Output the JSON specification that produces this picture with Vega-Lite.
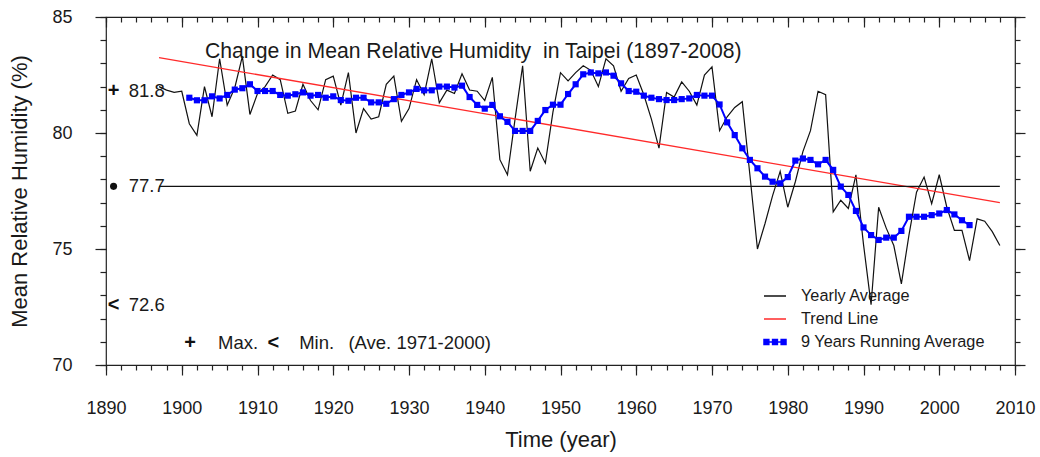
{
  "$schema": "https://vega.github.io/schema/vega-lite/v6.json",
  "width": 909,
  "height": 348,
  "autosize": {"type": "none"},
  "padding": {"left": 106, "top": 17, "right": 25, "bottom": 92},
  "background": "white",
  "title": {
    "text": "Change in Mean Relative Humidity\u00a0 in Taipei (1897-2008)",
    "anchor": "start",
    "frame": "group",
    "dx": 99,
    "offset": -54,
    "fontSize": 21.2,
    "font": "Liberation Sans",
    "fontWeight": "normal",
    "color": "#1a1a1a"
  },
  "config": {
    "font": "Liberation Sans",
    "view": {"stroke": "#222222", "strokeWidth": 1.2},
    "axis": {
      "domain": false,
      "grid": false,
      "tickColor": "#222222",
      "tickWidth": 1.2,
      "labelColor": "#1a1a1a",
      "titleColor": "#1a1a1a",
      "labelFont": "Liberation Sans",
      "titleFont": "Liberation Sans",
      "titleFontWeight": "normal",
      "labelFontSize": 18,
      "titleFontSize": 22,
      "labelFlush": false
    }
  },
  "datasets": {
    "yearly": [
      {"year": 1897, "rh": 82.0}, {"year": 1898, "rh": 81.85}, {"year": 1899, "rh": 81.75}, {"year": 1900, "rh": 81.8},
      {"year": 1901, "rh": 80.4}, {"year": 1902, "rh": 79.9}, {"year": 1903, "rh": 82.0}, {"year": 1904, "rh": 80.7},
      {"year": 1905, "rh": 83.2}, {"year": 1906, "rh": 81.2}, {"year": 1907, "rh": 81.95}, {"year": 1908, "rh": 83.3},
      {"year": 1909, "rh": 80.8}, {"year": 1910, "rh": 81.7}, {"year": 1911, "rh": 82.0}, {"year": 1912, "rh": 82.5},
      {"year": 1913, "rh": 82.3}, {"year": 1914, "rh": 80.85}, {"year": 1915, "rh": 80.95}, {"year": 1916, "rh": 82.1},
      {"year": 1917, "rh": 81.4}, {"year": 1918, "rh": 81.0}, {"year": 1919, "rh": 82.3}, {"year": 1920, "rh": 82.45},
      {"year": 1921, "rh": 81.2}, {"year": 1922, "rh": 82.6}, {"year": 1923, "rh": 80.0}, {"year": 1924, "rh": 81.05},
      {"year": 1925, "rh": 80.6}, {"year": 1926, "rh": 80.7}, {"year": 1927, "rh": 82.1}, {"year": 1928, "rh": 82.45},
      {"year": 1929, "rh": 80.5}, {"year": 1930, "rh": 81.05}, {"year": 1931, "rh": 82.3}, {"year": 1932, "rh": 81.65},
      {"year": 1933, "rh": 83.2}, {"year": 1934, "rh": 81.3}, {"year": 1935, "rh": 81.85}, {"year": 1936, "rh": 81.7},
      {"year": 1937, "rh": 82.55}, {"year": 1938, "rh": 81.85}, {"year": 1939, "rh": 81.8}, {"year": 1940, "rh": 81.4},
      {"year": 1941, "rh": 82.4}, {"year": 1942, "rh": 78.85}, {"year": 1943, "rh": 78.2}, {"year": 1944, "rh": 80.6},
      {"year": 1945, "rh": 82.9}, {"year": 1946, "rh": 78.35}, {"year": 1947, "rh": 79.35}, {"year": 1948, "rh": 78.7},
      {"year": 1949, "rh": 80.9}, {"year": 1950, "rh": 82.6}, {"year": 1951, "rh": 82.25}, {"year": 1952, "rh": 82.6},
      {"year": 1953, "rh": 82.9}, {"year": 1954, "rh": 82.7}, {"year": 1955, "rh": 82.0}, {"year": 1956, "rh": 83.2},
      {"year": 1957, "rh": 82.9}, {"year": 1958, "rh": 81.8}, {"year": 1959, "rh": 82.35}, {"year": 1960, "rh": 82.5},
      {"year": 1961, "rh": 81.65}, {"year": 1962, "rh": 80.6}, {"year": 1963, "rh": 79.35}, {"year": 1964, "rh": 81.75},
      {"year": 1965, "rh": 81.55}, {"year": 1966, "rh": 82.2}, {"year": 1967, "rh": 81.8}, {"year": 1968, "rh": 81.2},
      {"year": 1969, "rh": 82.5}, {"year": 1970, "rh": 82.85}, {"year": 1971, "rh": 80.1}, {"year": 1972, "rh": 80.7},
      {"year": 1973, "rh": 81.1}, {"year": 1974, "rh": 81.35}, {"year": 1975, "rh": 78.2}, {"year": 1976, "rh": 75.0},
      {"year": 1977, "rh": 76.1}, {"year": 1978, "rh": 77.3}, {"year": 1979, "rh": 78.35}, {"year": 1980, "rh": 76.8},
      {"year": 1981, "rh": 77.9}, {"year": 1982, "rh": 79.2}, {"year": 1983, "rh": 80.1}, {"year": 1984, "rh": 81.8},
      {"year": 1985, "rh": 81.65}, {"year": 1986, "rh": 76.6}, {"year": 1987, "rh": 77.1}, {"year": 1988, "rh": 76.75},
      {"year": 1989, "rh": 78.2}, {"year": 1990, "rh": 75.2}, {"year": 1991, "rh": 72.6}, {"year": 1992, "rh": 76.8},
      {"year": 1993, "rh": 75.9}, {"year": 1994, "rh": 75.15}, {"year": 1995, "rh": 73.5}, {"year": 1996, "rh": 75.6},
      {"year": 1997, "rh": 77.45}, {"year": 1998, "rh": 78.1}, {"year": 1999, "rh": 76.95}, {"year": 2000, "rh": 78.2},
      {"year": 2001, "rh": 76.8}, {"year": 2002, "rh": 75.8}, {"year": 2003, "rh": 75.8}, {"year": 2004, "rh": 74.5},
      {"year": 2005, "rh": 76.3}, {"year": 2006, "rh": 76.2}, {"year": 2007, "rh": 75.75}, {"year": 2008, "rh": 75.15}
    ],
    "running": [
      {"year": 1901, "rh": 81.52}, {"year": 1902, "rh": 81.41}, {"year": 1903, "rh": 81.41}, {"year": 1904, "rh": 81.58},
      {"year": 1905, "rh": 81.49}, {"year": 1906, "rh": 81.64}, {"year": 1907, "rh": 81.87}, {"year": 1908, "rh": 81.93},
      {"year": 1909, "rh": 82.1}, {"year": 1910, "rh": 81.81}, {"year": 1911, "rh": 81.81}, {"year": 1912, "rh": 81.81},
      {"year": 1913, "rh": 81.64}, {"year": 1914, "rh": 81.61}, {"year": 1915, "rh": 81.67}, {"year": 1916, "rh": 81.75},
      {"year": 1917, "rh": 81.61}, {"year": 1918, "rh": 81.64}, {"year": 1919, "rh": 81.52}, {"year": 1920, "rh": 81.58},
      {"year": 1921, "rh": 81.42}, {"year": 1922, "rh": 81.39}, {"year": 1923, "rh": 81.52}, {"year": 1924, "rh": 81.52},
      {"year": 1925, "rh": 81.32}, {"year": 1926, "rh": 81.32}, {"year": 1927, "rh": 81.26}, {"year": 1928, "rh": 81.46},
      {"year": 1929, "rh": 81.64}, {"year": 1930, "rh": 81.75}, {"year": 1931, "rh": 81.9}, {"year": 1932, "rh": 81.84},
      {"year": 1933, "rh": 81.84}, {"year": 1934, "rh": 82.0}, {"year": 1935, "rh": 82.0}, {"year": 1936, "rh": 81.96},
      {"year": 1937, "rh": 82.04}, {"year": 1938, "rh": 81.55}, {"year": 1939, "rh": 81.21}, {"year": 1940, "rh": 81.05},
      {"year": 1941, "rh": 81.21}, {"year": 1942, "rh": 80.72}, {"year": 1943, "rh": 80.48}, {"year": 1944, "rh": 80.09},
      {"year": 1945, "rh": 80.09}, {"year": 1946, "rh": 80.09}, {"year": 1947, "rh": 80.52}, {"year": 1948, "rh": 80.99},
      {"year": 1949, "rh": 81.22}, {"year": 1950, "rh": 81.22}, {"year": 1951, "rh": 81.68}, {"year": 1952, "rh": 82.1},
      {"year": 1953, "rh": 82.53}, {"year": 1954, "rh": 82.61}, {"year": 1955, "rh": 82.57}, {"year": 1956, "rh": 82.61},
      {"year": 1957, "rh": 82.47}, {"year": 1958, "rh": 82.14}, {"year": 1959, "rh": 81.81}, {"year": 1960, "rh": 81.78},
      {"year": 1961, "rh": 81.61}, {"year": 1962, "rh": 81.52}, {"year": 1963, "rh": 81.46}, {"year": 1964, "rh": 81.42},
      {"year": 1965, "rh": 81.42}, {"year": 1966, "rh": 81.46}, {"year": 1967, "rh": 81.49}, {"year": 1968, "rh": 81.64},
      {"year": 1969, "rh": 81.61}, {"year": 1970, "rh": 81.61}, {"year": 1971, "rh": 81.23}, {"year": 1972, "rh": 80.46},
      {"year": 1973, "rh": 79.91}, {"year": 1974, "rh": 79.34}, {"year": 1975, "rh": 78.84}, {"year": 1976, "rh": 78.48},
      {"year": 1977, "rh": 78.12}, {"year": 1978, "rh": 77.9}, {"year": 1979, "rh": 77.83}, {"year": 1980, "rh": 78.1},
      {"year": 1981, "rh": 78.81}, {"year": 1982, "rh": 78.9}, {"year": 1983, "rh": 78.84}, {"year": 1984, "rh": 78.65},
      {"year": 1985, "rh": 78.84}, {"year": 1986, "rh": 78.41}, {"year": 1987, "rh": 77.69}, {"year": 1988, "rh": 77.33},
      {"year": 1989, "rh": 76.64}, {"year": 1990, "rh": 75.93}, {"year": 1991, "rh": 75.6}, {"year": 1992, "rh": 75.39},
      {"year": 1993, "rh": 75.49}, {"year": 1994, "rh": 75.49}, {"year": 1995, "rh": 75.78}, {"year": 1996, "rh": 76.39},
      {"year": 1997, "rh": 76.39}, {"year": 1998, "rh": 76.39}, {"year": 1999, "rh": 76.46}, {"year": 2000, "rh": 76.53},
      {"year": 2001, "rh": 76.68}, {"year": 2002, "rh": 76.49}, {"year": 2003, "rh": 76.24}, {"year": 2004, "rh": 76.03}
    ],
    "trend": [
      {"year": 1897, "rh": 83.25}, {"year": 2008, "rh": 77.0}
    ],
    "normal": [
      {"year": 1897, "rh": 77.7}, {"year": 2008, "rh": 77.7}
    ],
    "glyphs": [
      {"year": 1891, "rh": 81.8, "glyph": "+"},
      {"year": 1891, "rh": 72.6, "glyph": "<"},
      {"year": 1901.1, "rh": 70.95, "glyph": "+"},
      {"year": 1912.1, "rh": 70.95, "glyph": "<"}
    ],
    "dot": [
      {"year": 1891, "rh": 77.7}
    ],
    "notes": [
      {"year": 1893, "rh": 81.8, "note": "81.8"},
      {"year": 1893, "rh": 77.7, "note": "77.7"},
      {"year": 1893, "rh": 72.6, "note": "72.6"},
      {"year": 1904.8, "rh": 70.95, "note": "Max."},
      {"year": 1915.5, "rh": 70.95, "note": "Min."},
      {"year": 1922, "rh": 70.95, "note": "(Ave. 1971-2000)"}
    ]
  },
  "resolve": {"axis": {"x": "independent", "y": "independent"}},
  "layer": [
    {
      "data": {"name": "yearly"},
      "mark": {"type": "line", "strokeWidth": 1.2},
      "encoding": {
        "x": {
          "field": "year", "type": "quantitative",
          "scale": {"domain": [1890, 2010], "nice": false, "zero": false},
          "axis": {
            "orient": "bottom",
            "values": [1890, 1900, 1910, 1920, 1930, 1940, 1950, 1960, 1970, 1980, 1990, 2000, 2010],
            "format": "d", "tickSize": 10, "labelPadding": 24,
            "title": "Time (year)", "titlePadding": 12
          }
        },
        "y": {
          "field": "rh", "type": "quantitative",
          "scale": {"domain": [70, 85], "nice": false, "zero": false},
          "axis": {
            "orient": "left", "values": [70, 75, 80, 85], "tickSize": 11, "labelPadding": 23,
            "title": "Mean Relative Humidity (%)", "titlePadding": 20
          }
        },
        "color": {
          "datum": "Yearly Average", "type": "nominal",
          "scale": {
            "domain": ["Yearly Average", "Trend Line", "9 Years Running Average"],
            "range": ["#111111", "#ff2a2a", "#0000ff"]
          },
          "legend": {
            "orient": "none", "legendX": 657, "legendY": 267, "title": null, "padding": 0,
            "labelFont": "Liberation Sans", "labelFontSize": 16.3, "labelColor": "#1a1a1a", "labelLimit": 0,
            "symbolSize": 484, "symbolStrokeWidth": 1.5, "labelOffset": 14, "rowPadding": 2,
            "encode": {
              "symbols": {
                "update": {
                  "shape": {"signal": "datum.value === '9 Years Running Average' ? 'M-1,0H1M-1,-0.22h0.44v0.44h-0.44zM-0.22,-0.22h0.44v0.44h-0.44zM0.56,-0.22h0.44v0.44h-0.44z' : 'M-1,0H1'"},
                  "fill": {"signal": "datum.value === '9 Years Running Average' ? '#0000ff' : 'transparent'"},
                  "stroke": {"signal": "datum.value === '9 Years Running Average' ? '#0000ff' : (datum.value === 'Trend Line' ? '#ff2a2a' : '#111111')"},
                  "strokeWidth": {"value": 1.5}
                }
              }
            }
          }
        }
      }
    },
    {
      "data": {"name": "trend"},
      "mark": {"type": "line", "strokeWidth": 1.3},
      "encoding": {
        "x": {
          "field": "year", "type": "quantitative",
          "axis": {
            "orient": "bottom",
            "values": [1890, 1892, 1894, 1896, 1898, 1900, 1902, 1904, 1906, 1908, 1910, 1912, 1914, 1916, 1918, 1920, 1922, 1924, 1926, 1928, 1930, 1932, 1934, 1936, 1938, 1940, 1942, 1944, 1946, 1948, 1950, 1952, 1954, 1956, 1958, 1960, 1962, 1964, 1966, 1968, 1970, 1972, 1974, 1976, 1978, 1980, 1982, 1984, 1986, 1988, 1990, 1992, 1994, 1996, 1998, 2000, 2002, 2004, 2006, 2008, 2010],
            "tickSize": 5, "labels": false, "title": null
          }
        },
        "y": {
          "field": "rh", "type": "quantitative",
          "axis": {
            "orient": "left", "values": [70, 71, 72, 73, 74, 75, 76, 77, 78, 79, 80, 81, 82, 83, 84, 85],
            "tickSize": 6, "labels": false, "title": null
          }
        },
        "color": {"datum": "Trend Line", "type": "nominal"}
      }
    },
    {
      "data": {"name": "normal"},
      "mark": {"type": "line", "strokeWidth": 1.2, "color": "#111111"},
      "encoding": {
        "x": {
          "field": "year", "type": "quantitative",
          "axis": {
            "orient": "top",
            "values": [1890, 1900, 1910, 1920, 1930, 1940, 1950, 1960, 1970, 1980, 1990, 2000, 2010],
            "tickSize": -10, "labels": false, "title": null
          }
        },
        "y": {
          "field": "rh", "type": "quantitative",
          "axis": {
            "orient": "right", "values": [70, 75, 80, 85], "tickSize": 10, "labels": false, "title": null
          }
        }
      }
    },
    {
      "data": {"name": "running"},
      "mark": {
        "type": "line", "strokeWidth": 2,
        "point": {"shape": "square", "size": 38, "filled": true, "color": "#0000ff"}
      },
      "encoding": {
        "x": {
          "field": "year", "type": "quantitative",
          "axis": {
            "orient": "top",
            "values": [1890, 1892, 1894, 1896, 1898, 1900, 1902, 1904, 1906, 1908, 1910, 1912, 1914, 1916, 1918, 1920, 1922, 1924, 1926, 1928, 1930, 1932, 1934, 1936, 1938, 1940, 1942, 1944, 1946, 1948, 1950, 1952, 1954, 1956, 1958, 1960, 1962, 1964, 1966, 1968, 1970, 1972, 1974, 1976, 1978, 1980, 1982, 1984, 1986, 1988, 1990, 1992, 1994, 1996, 1998, 2000, 2002, 2004, 2006, 2008, 2010],
            "tickSize": -5, "labels": false, "title": null
          }
        },
        "y": {
          "field": "rh", "type": "quantitative",
          "axis": {
            "orient": "right", "values": [70, 71, 72, 73, 74, 75, 76, 77, 78, 79, 80, 81, 82, 83, 84, 85],
            "tickSize": 5, "labels": false, "title": null
          }
        },
        "color": {"datum": "9 Years Running Average", "type": "nominal"}
      }
    },
    {
      "data": {"name": "glyphs"},
      "mark": {"type": "text", "align": "center", "baseline": "middle", "fontSize": 20, "fontWeight": "bold", "color": "#111111"},
      "encoding": {
        "x": {"field": "year", "type": "quantitative", "axis": null},
        "y": {"field": "rh", "type": "quantitative", "axis": null},
        "text": {"field": "glyph"}
      }
    },
    {
      "data": {"name": "dot"},
      "mark": {"type": "point", "shape": "circle", "filled": true, "size": 50, "color": "#111111", "opacity": 1},
      "encoding": {
        "x": {"field": "year", "type": "quantitative", "axis": null},
        "y": {"field": "rh", "type": "quantitative", "axis": null}
      }
    },
    {
      "data": {"name": "notes"},
      "mark": {"type": "text", "align": "left", "baseline": "middle", "fontSize": 18.5, "color": "#1a1a1a"},
      "encoding": {
        "x": {"field": "year", "type": "quantitative", "axis": null},
        "y": {"field": "rh", "type": "quantitative", "axis": null},
        "text": {"field": "note"}
      }
    }
  ]
}
